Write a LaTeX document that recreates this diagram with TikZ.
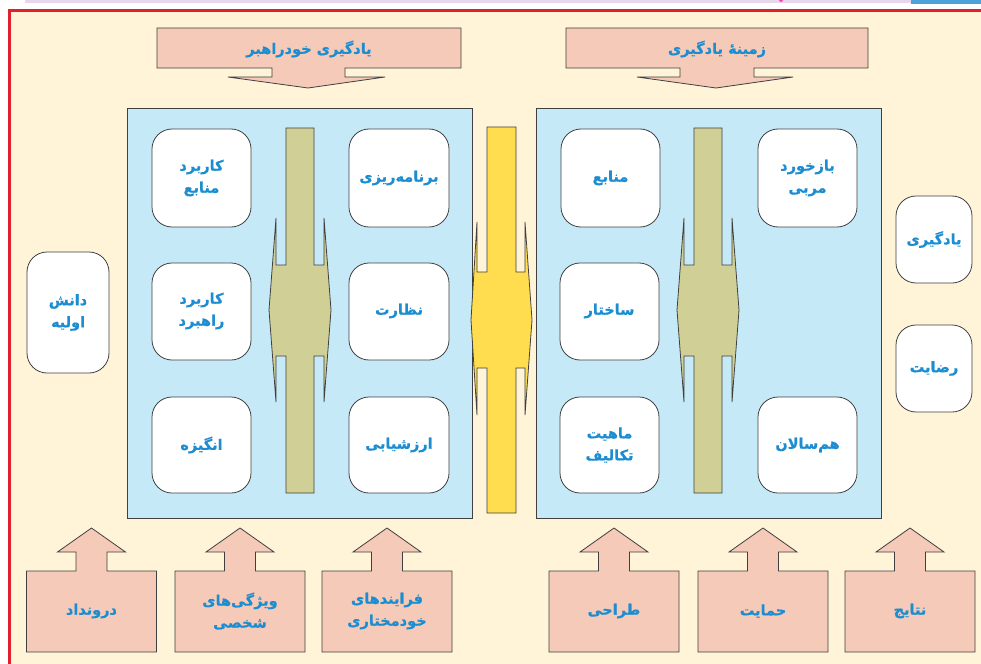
\documentclass[tikz,border=0pt]{standalone}
\usepackage{fontspec}
\TeXXeTstate=1
\newfontfamily\arabicfont[Script=Arabic, FakeBold=0.6]{DejaVu Sans Bold}
\newcommand\fa[1]{\beginR #1\endR}

\definecolor{cream}{HTML}{FFF4D8}
\definecolor{framered}{HTML}{E0202A}
\definecolor{panelblue}{HTML}{C6E9F8}
\definecolor{salmon}{HTML}{F5CAB8}
\definecolor{olive}{HTML}{D0D096}
\definecolor{baryellow}{HTML}{FFDD4F}
\definecolor{textblue}{HTML}{1B8DD0}
\definecolor{striplav}{HTML}{EAD6EC}
\definecolor{stripblue}{HTML}{4DA2DA}
\definecolor{edge}{HTML}{404040}

\tikzset{
  outline/.style={draw=edge, line width=0.8pt, line join=miter},
  panel/.style={outline, fill=panelblue},
  card/.style={outline, fill=white, rounded corners=20pt},
  pointer/.style={outline, fill=salmon},
  label/.style={text=textblue, font=\arabicfont\fontsize{14.5}{22}\selectfont, align=center, inner sep=0pt},
}

\begin{document}
\begin{tikzpicture}[x=1pt, y=-1pt]
\useasboundingbox (0,0) rectangle (981,663);
\clip (0,0) rectangle (981,663);

% page strip and framed area
\fill[striplav] (25,0) rectangle (911,3);
\fill[stripblue] (911,0) rectangle (981,4);
\fill[magenta!70] (781,0) circle (2);
\filldraw[fill=cream, draw=framered, line width=3pt] (9,11) rectangle (1000,700);

% top pointers
\draw[pointer] (157,28) -- (461,28) -- (461,68) -- (345,68) -- (345,77) -- (385,77)
  -- (308,88) -- (228,77) -- (272,77) -- (272,68) -- (157,68) -- cycle;
\node[label] (selfdir) at (309,49) {\fa{یادگیری خودراهبر}};
\draw[pointer] (566,28) -- (868,28) -- (868,68) -- (754,68) -- (754,77) -- (793,77)
  -- (716,88) -- (637,77) -- (680,77) -- (680,68) -- (566,68) -- cycle;
\node[label] (context) at (717,49) {\fa{زمینهٔ یادگیری}};

% panels
\draw[panel] (127,108) rectangle (472,518);
\draw[panel] (536,108) rectangle (881,518);

% olive double arrows inside the panels
\foreach \cx in {300,708}{
  \draw[outline, fill=olive] (\cx-14,128) -- (\cx+14,128) -- (\cx+14,265) -- (\cx+24,265)
    -- (\cx+24,218) -- (\cx+31,310) -- (\cx+24,402) -- (\cx+24,356) -- (\cx+14,356)
    -- (\cx+14,493) -- (\cx-14,493) -- (\cx-14,356) -- (\cx-24,356) -- (\cx-24,402)
    -- (\cx-31,310) -- (\cx-24,218) -- (\cx-24,265) -- (\cx-14,265) -- cycle;
}
% yellow double arrow between the panels
\draw[outline, fill=baryellow] (487,127) -- (516,127) -- (516,272) -- (525,272)
  -- (525,222) -- (532,320) -- (525,415) -- (525,368) -- (516,368) -- (516,513)
  -- (487,513) -- (487,368) -- (477,368) -- (477,415) -- (471,320) -- (477,222)
  -- (477,272) -- (487,272) -- cycle;

% cards, left panel
\draw[card] (152,129) rectangle (251,227); \node[label] (usesrc) at (201.5,178) {\fa{کاربرد}\\\fa{منابع}};
\draw[card] (152,263) rectangle (251,360); \node[label] (usestr) at (201.5,311) {\fa{کاربرد}\\\fa{راهبرد}};
\draw[card] (152,397) rectangle (251,493); \node[label] (motiv) at (201.5,445) {\fa{انگیزه}};
\draw[card] (349,129) rectangle (449,227); \node[label] (plan) at (399,178) {\fa{برنامه‌ریزی}};
\draw[card] (349,263) rectangle (449,360); \node[label] (monitor) at (399,311) {\fa{نظارت}};
\draw[card] (349,397) rectangle (449,493); \node[label] (evalu) at (399,445) {\fa{ارزشیابی}};

% cards, right panel
\draw[card] (561,129) rectangle (660,227); \node[label] (resrc) at (610.5,178) {\fa{منابع}};
\draw[card] (560,263) rectangle (659,360); \node[label] (struct) at (609.5,311) {\fa{ساختار}};
\draw[card] (560,397) rectangle (659,493); \node[label] (tasks) at (609.5,445) {\fa{ماهیت}\\\fa{تکالیف}};
\draw[card] (758,129) rectangle (857,227); \node[label] (feedb) at (807.5,178) {\fa{بازخورد}\\\fa{مربی}};
\draw[card] (758,397) rectangle (857,493); \node[label] (peers) at (807.5,445) {\fa{هم‌سالان}};

% side cards
\draw[card] (27,252) rectangle (109,373); \node[label] (prior) at (68,312.5) {\fa{دانش}\\\fa{اولیه}};
\draw[card] (896,196) rectangle (972,283); \node[label] (learn) at (934,239.5) {\fa{یادگیری}};
\draw[card] (896,325) rectangle (972,412); \node[label] (satis) at (934,368.5) {\fa{رضایت}};

% bottom pointers
\foreach \cx/\nm/\txt in {
  91.5/inp/{\fa{درونداد}},
  240/trait/{\fa{ویژگی‌های}\\\fa{شخصی}},
  387/auton/{\fa{فرایندهای}\\\fa{خودمختاری}},
  614/design/{\fa{طراحی}},
  763/support/{\fa{حمایت}},
  910/result/{\fa{نتایج}}}{
  \draw[pointer] (\cx-65,652) -- (\cx-65,571) -- (\cx-15.5,571) -- (\cx-15.5,552)
    -- (\cx-34,552) -- (\cx,528) -- (\cx+34,552) -- (\cx+15.5,552) -- (\cx+15.5,571)
    -- (\cx+65,571) -- (\cx+65,652) -- cycle;
  \node[label] (\nm) at (\cx,611) {\txt};
}
\end{tikzpicture}
\end{document}
